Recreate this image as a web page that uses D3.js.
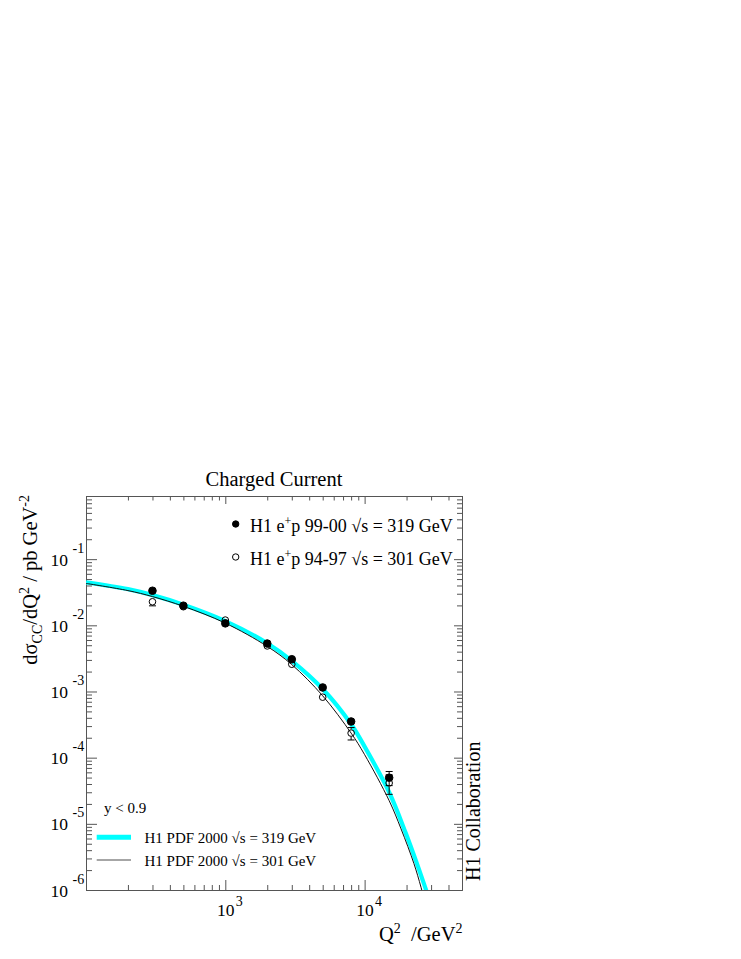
<!DOCTYPE html>
<html><head><meta charset="utf-8">
<script src="https://cdn.jsdelivr.net/npm/d3@7"></script>
<style>
html,body{margin:0;padding:0;background:#fff;}
text{font-family:"Liberation Serif","Times New Roman",serif;fill:#000;}
</style></head>
<body>
<svg id="chart" width="741" height="959"></svg>
<script>
// ---- data ----
const q2Points = [300, 500, 1000, 2000, 3000, 5000, 8000, 15000];
const sigma9900 = [0.0333, 0.0198, 0.0107, 0.0053, 0.00307, 0.00115, 3.52e-4, 4.98e-5];
const err9900   = [0.0015, 0.0008, 0.0004, 0.0002, 0.00014, 0.00006, 0.00002, 0.000012];
const sigma9497 = [0.0227, 0.0191, 0.0120, 0.00488, 0.00258, 8.2e-4, 2.35e-4, 4.14e-5];
const err9497   = [0.003, 0.001, 0.0006, 0.0003, 0.00018, 0.00008, 0.00005, 0.0000135];

const q2Curve319 = [100, 200, 300, 500, 1000, 2000, 3000, 5000, 8000, 10000, 15000, 19700, 24100, 27600, 30000];
const sigCurve319 = [0.0446, 0.0352, 0.0286, 0.0205, 0.0116, 0.00535, 0.0029, 0.00109, 3.2e-4, 1.47e-4, 3.0e-5, 7.3e-6, 2.29e-6, 1.0e-6, 0.6e-6];
const q2Curve301 = [100, 200, 300, 500, 1000, 2000, 3000, 5000, 8000, 10000, 15000, 18250, 22600, 25400, 28000];
const sigCurve301 = [0.0430, 0.0335, 0.0272, 0.0194, 0.0108, 0.0048, 0.00255, 8.6e-4, 2.35e-4, 1.11e-4, 2.24e-5, 8.4e-6, 2.5e-6, 1.1e-6, 0.5e-6];

const xMajorTicks = [1000, 10000];
const xTickExponents = ["3", "4"];
const yMajorTicks = [1e-1, 1e-2, 1e-3, 1e-4, 1e-5, 1e-6];
const yTickExponents = ["-1", "-2", "-3", "-4", "-5", "-6"];

const titleText = "Charged Current";
const legendData = ["H1 e", "+", "p 99-00 \u221As = 319 GeV"];
const legendData2 = ["H1 e", "+", "p 94-97 \u221As = 301 GeV"];
const legendCurve319 = "H1 PDF 2000 \u221As = 319 GeV";
const legendCurve301 = "H1 PDF 2000 \u221As = 301 GeV";
const cutText = "y < 0.9";
const sideText = "H1 Collaboration";

// ---- layout ----
const svg = d3.select("#chart");
const L = 86, R = 462, T = 496, B = 890;
const x = d3.scaleLog().domain([100, 50000]).range([L, R]);
const y = d3.scaleLog().domain([1e-6, 0.9]).range([B, T]);
const axisCol = "#555";

svg.append("rect").attr("width", 741).attr("height", 959).attr("fill", "#fff");

// minor ticks
const xMinor = [];
for (let d = 100; d < 100000; d *= 10) for (let k = 2; k <= 9; k++) { const v = k * d; if (v <= 50000) xMinor.push(v); }
const yMinor = [];
for (let d = 1e-6; d < 1; d *= 10) for (let k = 2; k <= 9; k++) { const v = k * d; if (v <= 0.9) yMinor.push(v); }

function styleAxis(g) {
  g.selectAll("path").attr("stroke", axisCol).attr("stroke-width", 1);
  g.selectAll("line").attr("stroke", axisCol).attr("stroke-width", 1);
  g.selectAll("text").remove();
}
function addAxis(axisFn, scale, ticks, size, transform) {
  const a = axisFn(scale).tickValues(ticks).tickSizeInner(-size).tickSizeOuter(0).tickFormat("");
  svg.append("g").attr("transform", transform).call(a).call(styleAxis);
}
// bottom
addAxis(d3.axisBottom, x, xMinor, 5, `translate(0,${B})`);
addAxis(d3.axisBottom, x, xMajorTicks, 10, `translate(0,${B})`);
// top
addAxis(d3.axisTop, x, xMinor, 4.5, `translate(0,${T})`);
addAxis(d3.axisTop, x, xMajorTicks, 8, `translate(0,${T})`);
// left
addAxis(d3.axisLeft, y, yMinor, 6, `translate(${L},0)`);
addAxis(d3.axisLeft, y, yMajorTicks, 11, `translate(${L},0)`);
// right
addAxis(d3.axisRight, y, yMinor, 5, `translate(${R},0)`);
addAxis(d3.axisRight, y, yMajorTicks, 8, `translate(${R},0)`);

// y tick labels
yMajorTicks.forEach((v, i) => {
  svg.append("text").attr("x", 68).attr("y", y(v) + 6.5).attr("text-anchor", "end")
     .attr("font-size", 17.5).text("10");
  svg.append("text").attr("x", 72.5).attr("y", y(v) - 6.5).attr("text-anchor", "start")
     .attr("font-size", 14).text(yTickExponents[i]);
});
// x tick labels
xMajorTicks.forEach((v, i) => {
  svg.append("text").attr("x", x(v) + 0.5).attr("y", 916).attr("text-anchor", "middle")
     .attr("font-size", 17.5).text("10");
  svg.append("text").attr("x", x(v) + 10.5).attr("y", 906).attr("text-anchor", "start")
     .attr("font-size", 14).text(xTickExponents[i]);
});

// title
svg.append("text").attr("x", 274).attr("y", 486).attr("text-anchor", "middle")
   .attr("font-size", 20.5).text(titleText);

// y axis title
const yt = svg.append("text").attr("transform", "translate(36.5,495) rotate(-90)")
   .attr("text-anchor", "end").attr("font-size", 20.5);
yt.append("tspan").text("d\u03C3");
yt.append("tspan").attr("font-size", 14).attr("dy", 5).text("CC");
yt.append("tspan").attr("dy", -5).text("/dQ");
yt.append("tspan").attr("font-size", 14).attr("dy", -8).text("2");
yt.append("tspan").attr("dy", 8).text(" / pb GeV");
yt.append("tspan").attr("font-size", 14).attr("dy", -8).text("-2");

// x axis title
const xt = svg.append("text").attr("x", 462.5).attr("y", 940.5).attr("text-anchor", "end")
   .attr("font-size", 20.5).style("white-space", "pre");
xt.append("tspan").text("Q");
xt.append("tspan").attr("font-size", 14).attr("dy", -8).text("2");
xt.append("tspan").attr("dy", 8).text("  /GeV");
xt.append("tspan").attr("font-size", 14).attr("dy", -8).text("2");

// side text
svg.append("text").attr("transform", "translate(480,881) rotate(-90)")
   .attr("text-anchor", "start").attr("font-size", 20).text(sideText);

// curves
const clip = svg.append("defs").append("clipPath").attr("id", "plotclip");
clip.append("rect").attr("x", L).attr("y", T).attr("width", R - L).attr("height", B - T);
const plot = svg.append("g").attr("clip-path", "url(#plotclip)");
const line = d3.line().x(d => x(d[0])).y(d => y(d[1])).curve(d3.curveCatmullRom.alpha(0.5));
plot.append("path").datum(d3.zip(q2Curve319, sigCurve319)).attr("d", line)
    .attr("fill", "none").attr("stroke", "#00ffff").attr("stroke-width", 4.2);
plot.append("path").datum(d3.zip(q2Curve301, sigCurve301)).attr("d", line)
    .attr("fill", "none").attr("stroke", "#111").attr("stroke-width", 1);

// data points
const rM = 3.8, cap = 3.5;
function drawPoints(vals, errs, filled) {
  q2Points.forEach((q, i) => {
    const cx = x(q), cy = y(vals[i]);
    const yUp = y(vals[i] + errs[i]), yDn = y(Math.max(vals[i] - errs[i], 1e-7));
    const g = plot.append("g");
    if (cy - yUp > rM) {
      g.append("line").attr("x1", cx).attr("x2", cx).attr("y1", cy - rM).attr("y2", yUp).attr("stroke", "#000");
      g.append("line").attr("x1", cx - cap).attr("x2", cx + cap).attr("y1", yUp).attr("y2", yUp).attr("stroke", "#000");
    }
    if (yDn - cy > rM) {
      g.append("line").attr("x1", cx).attr("x2", cx).attr("y1", cy + rM).attr("y2", yDn).attr("stroke", "#000");
      g.append("line").attr("x1", cx - cap).attr("x2", cx + cap).attr("y1", yDn).attr("y2", yDn).attr("stroke", "#000");
    }
    g.append("circle").attr("cx", cx).attr("cy", cy).attr("r", filled ? rM : rM - 0.5)
      .attr("fill", filled ? "#000" : "none").attr("stroke", "#000").attr("stroke-width", 1);
  });
}
drawPoints(sigma9497, err9497, false);
drawPoints(sigma9900, err9900, true);

// legend top right
function legendRow(yb, parts, filled) {
  svg.append("circle").attr("cx", 235.7).attr("cy", yb - 7.5).attr("r", 3.2)
     .attr("fill", filled ? "#000" : "#fff").attr("stroke", "#000").attr("stroke-width", 1);
  const t = svg.append("text").attr("x", 250).attr("y", yb).attr("font-size", 18);
  t.append("tspan").text(parts[0]);
  t.append("tspan").attr("font-size", 12).attr("dy", -7).text(parts[1]);
  t.append("tspan").attr("dy", 7).text(parts[2]);
}
legendRow(531.5, legendData, true);
legendRow(564.5, legendData2, false);

// legend bottom left
svg.append("text").attr("x", 104).attr("y", 812.5).attr("font-size", 15).text(cutText);
svg.append("line").attr("x1", 96.7).attr("x2", 131).attr("y1", 837.3).attr("y2", 837.3)
   .attr("stroke", "#00ffff").attr("stroke-width", 5);
svg.append("text").attr("x", 144.5).attr("y", 842.5).attr("font-size", 15).text(legendCurve319);
svg.append("line").attr("x1", 96.7).attr("x2", 131).attr("y1", 860).attr("y2", 860)
   .attr("stroke", "#888").attr("stroke-width", 1.5);
svg.append("text").attr("x", 144.5).attr("y", 865.5).attr("font-size", 15).text(legendCurve301);
</script>
</body></html>
